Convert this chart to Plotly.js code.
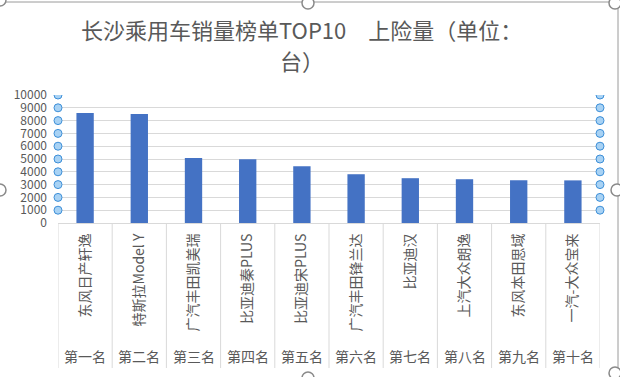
<!DOCTYPE html>
<html>
<head>
<meta charset="utf-8">
<script src="https://cdn.plot.ly/plotly-3.0.1.min.js"></script>
<style>
html,body{margin:0;padding:0;background:#fff;}
#chart{width:620px;height:377px;}
</style>
</head>
<body>
<div id="chart"></div>
<script>
// ---- data ----
const ranks = ['第一名','第二名','第三名','第四名','第五名','第六名','第七名','第八名','第九名','第十名'];
const models = ['东风日产轩逸','特斯拉Model Y','广汽丰田凯美瑞','比亚迪秦PLUS','比亚迪宋PLUS','广汽丰田锋兰达','比亚迪汉','上汽大众朗逸','东风本田思域','一汽-大众宝来'];
const sales = [8600, 8520, 5070, 4990, 4440, 3810, 3500, 3420, 3340, 3330];
const yTickVals = [0,1000,2000,3000,4000,5000,6000,7000,8000,9000,10000];
const titleLines = ['长沙乘用车销量榜单TOP10　上险量（单位：', '台）'];

// ---- layout geometry ----
const W = 620, H = 377;
const L = 58, R = 20, T = 95, B = 154;
const PW = W - L - R, PH = H - T - B;
const px = X => (X - L) / PW;          // pixel -> paper x
const py = Y => (H - B - Y) / PH;      // pixel -> paper y

const font = '"Noto Sans CJK SC", "Noto Sans", sans-serif';
const grey = '#595959';

const shapes = [];
const annotations = [];

// chart title (two wrapped lines)
[[301, 29], [302, 60]].forEach(([X, Y], i) => {
  annotations.push({xref:'paper', yref:'paper', x:px(X), y:py(Y), text:titleLines[i],
    showarrow:false, xanchor:'center', yanchor:'middle',
    font:{family:font, size:22, color:grey}});
});

// category dividers through both label levels
for (let i = 0; i <= models.length; i++) {
  shapes.push({type:'line', xref:'x', yref:'paper', x0:i-0.5, x1:i-0.5,
    y0:0, y1:py(368), line:{color:'#d9d9d9', width:1}});
}
// outer level (rank) labels
ranks.forEach((r, i) => {
  annotations.push({xref:'x', yref:'paper', x:models[i], y:py(356), text:r,
    showarrow:false, xanchor:'center', yanchor:'middle',
    font:{family:font, size:14, color:grey}});
});
// selection markers on gridlines (Excel selected gridlines)
yTickVals.slice(1).forEach(v => {
  [0, 1].forEach(xp => {
    shapes.push({type:'circle', xref:'paper', yref:'y', xsizemode:'pixel', ysizemode:'pixel',
      xanchor:xp, yanchor:v, x0:-4, x1:4, y0:-4, y1:4,
      fillcolor:'#a8d2f4', line:{color:'#3d8fd8', width:1}});
  });
});
// chart frame
shapes.push({type:'rect', xref:'paper', yref:'paper', x0:px(-2), x1:px(618), y0:py(395), y1:py(2),
  line:{color:'#9a9a9a', width:1}, fillcolor:'rgba(0,0,0,0)'});
// frame sizing handles
[[0,0],[308,3],[615,3],[0,190],[617,190],[308,378],[615,373]].forEach(([X,Y]) => {
  shapes.push({type:'circle', xref:'paper', yref:'paper', xsizemode:'pixel', ysizemode:'pixel',
    xanchor:px(X), yanchor:py(Y), x0:-6, x1:6, y0:-6, y1:6,
    fillcolor:'#ffffff', line:{color:'#8a8a8a', width:1.5}});
});

const trace = {
  type:'bar', x:models, y:sales,
  marker:{color:'#4472c4'},
  hoverinfo:'x+y'
};

const layout = {
  width:W, height:H,
  margin:{l:L, r:R, t:T, b:B, pad:0},
  paper_bgcolor:'#ffffff', plot_bgcolor:'#ffffff',
  showlegend:false,
  bargap:0.68,
  xaxis:{type:'category', range:[-0.5, models.length-0.5],
    tickangle:-90, tickfont:{family:font, size:14, color:grey},
    showline:true, linecolor:'#d9d9d9', linewidth:1,
    showgrid:false, ticks:'', ticklabelstandoff:4, zeroline:false, fixedrange:true},
  yaxis:{range:[0,10000], tickvals:yTickVals, ticktext:yTickVals.map(String),
    tickfont:{family:font, size:12, color:grey},
    showgrid:true, gridcolor:'#d9d9d9', gridwidth:1, zeroline:false,
    showline:false, ticks:'', ticklabelstandoff:10, fixedrange:true},
  shapes:shapes,
  annotations:annotations
};

Plotly.newPlot('chart', [trace], layout, {displayModeBar:false, staticPlot:true});
</script>
</body>
</html>
